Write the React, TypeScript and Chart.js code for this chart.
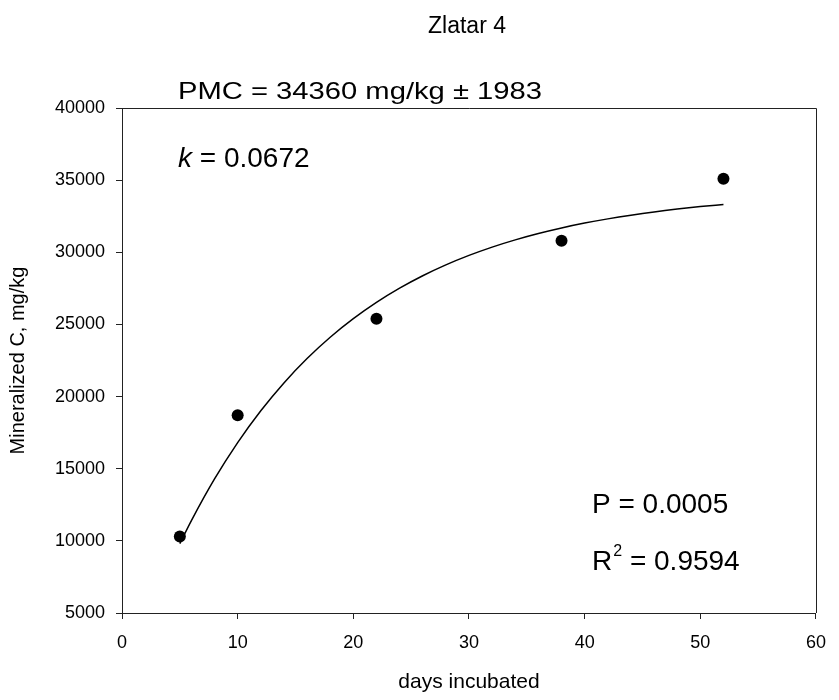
import { useEffect, useRef } from "react";
import { Chart, registerables } from "chart.js";

Chart.register(...registerables);

const chartTitle = "Zlatar 4";
const xAxisTitle = "days incubated";
const yAxisTitle = "Mineralized C, mg/kg";

const observedDays = [5, 10, 22, 38, 52];
const observedC = [10300, 18700, 25400, 30800, 35100];

const fitDays = [5, 6, 8, 10, 12, 14, 16, 18, 20, 22, 24, 26, 28, 30, 32, 34, 36, 38, 40, 42, 44, 46, 48, 50, 52];
const fitC = [9806, 11401, 14290, 16812, 19018, 20949, 22636, 24111, 25399, 26526, 27512, 28374, 29127, 29784, 30360, 30862, 31302, 31687, 32024, 32316, 32573, 32800, 32996, 33168, 33316];

const xTicks = [0, 10, 20, 30, 40, 50, 60];
const yTicks = [5000, 10000, 15000, 20000, 25000, 30000, 35000, 40000];

const pmcLabel = "PMC = 34360 mg/kg ± 1983";
const kSymbol = "k";
const kValueText = " = 0.0672";
const pLabel = "P = 0.0005";
const r2Base = "R";
const r2Sup = "2";
const r2ValueText = " = 0.9594";

const FONT = "'Liberation Sans', Arial, Helvetica, sans-serif";

function drawText(
  ctx: CanvasRenderingContext2D,
  s: string,
  x: number,
  y: number,
  size: number,
  opts: { italic?: boolean; width?: number; align?: "left" | "center" } = {}
) {
  ctx.save();
  ctx.font = `${opts.italic ? "italic " : ""}${size}px ${FONT}`;
  ctx.fillStyle = "#000";
  ctx.textBaseline = "alphabetic";
  const w = ctx.measureText(s).width;
  const sx = opts.width ? opts.width / w : 1;
  const drawnW = w * sx;
  const startX = opts.align === "center" ? x - drawnW / 2 : x;
  ctx.translate(startX, y);
  ctx.scale(sx, 1);
  ctx.textAlign = "left";
  ctx.fillText(s, 0, 0);
  ctx.restore();
  return drawnW;
}

const annotationPlugin = {
  id: "annotations",
  afterDraw(chart: any) {
    const { ctx, chartArea } = chart;
    const { left, right, top, bottom } = chartArea;
    ctx.save();
    ctx.strokeStyle = "#222";
    ctx.lineWidth = 1;
    ctx.beginPath();
    ctx.moveTo(left, Math.round(top) + 0.5);
    ctx.lineTo(Math.round(right) + 0.5, Math.round(top) + 0.5);
    ctx.lineTo(Math.round(right) + 0.5, bottom);
    ctx.stroke();
    ctx.restore();

    const cx = (left + right) / 2;
    drawText(ctx, chartTitle, cx - 2, 33, 23, { align: "center" });
    drawText(ctx, pmcLabel, 178, 99, 24, { width: 364 });
    const kw = drawText(ctx, kSymbol, 178, 167, 28, { italic: true });
    drawText(ctx, kValueText, 178 + kw, 167, 28);
    drawText(ctx, pLabel, 592, 513, 28);
    const rw = drawText(ctx, r2Base, 592, 570, 28);
    const sw = drawText(ctx, r2Sup, 592 + rw + 1, 556, 16);
    drawText(ctx, r2ValueText, 592 + rw + 1 + sw, 570, 28);
  },
};

export default function App() {
  const ref = useRef<HTMLCanvasElement | null>(null);

  useEffect(() => {
    if (!ref.current) return;
    const chart = new Chart(ref.current, {
      type: "scatter",
      data: {
        datasets: [
          {
            type: "scatter",
            label: "Observed",
            data: observedDays.map((d, i) => ({ x: d, y: observedC[i] })),
            backgroundColor: "#000",
            borderColor: "#000",
            borderWidth: 0,
            pointRadius: 6,
            pointHoverRadius: 6,
          },
          {
            type: "line",
            label: "Fit",
            data: fitDays.map((d, i) => ({ x: d, y: fitC[i] })),
            borderColor: "#000",
            borderWidth: 1.5,
            pointRadius: 0,
            fill: false,
            cubicInterpolationMode: "monotone",
            showLine: true,
          } as any,
        ],
      },
      options: {
        responsive: false,
        animation: false,
        events: [],
        layout: { padding: { left: 0, right: 17, top: 108, bottom: 0 } },
        font: { family: FONT },
        plugins: {
          legend: { display: false },
          tooltip: { enabled: false },
          title: { display: false },
        },
        scales: {
          x: {
            type: "linear",
            min: xTicks[0],
            max: xTicks[xTicks.length - 1],
            afterBuildTicks: (s: any) => {
              s.ticks = xTicks.map((v) => ({ value: v }));
            },
            afterFit: (s: any) => {
              s.height = 87;
            },
            grid: {
              drawOnChartArea: false,
              drawTicks: true,
              tickLength: 6,
              tickColor: "#222",
              tickWidth: 1,
            },
            border: { display: true, color: "#222", width: 1 },
            ticks: {
              color: "#000",
              padding: 13,
              font: { family: FONT, size: 18 },
              callback: (v: any) => String(v),
              maxRotation: 0,
            },
            title: {
              display: true,
              text: xAxisTitle,
              color: "#000",
              font: { family: FONT, size: 21 },
              padding: { top: 0, bottom: 5 },
            },
          },
          y: {
            type: "linear",
            min: yTicks[0],
            max: yTicks[yTicks.length - 1],
            afterBuildTicks: (s: any) => {
              s.ticks = yTicks.map((v) => ({ value: v }));
            },
            afterFit: (s: any) => {
              s.width = 122;
            },
            grid: {
              drawOnChartArea: false,
              drawTicks: true,
              tickLength: 6,
              tickColor: "#222",
              tickWidth: 1,
            },
            border: { display: true, color: "#222", width: 1 },
            ticks: {
              color: "#000",
              padding: 11,
              font: { family: FONT, size: 18 },
              callback: (v: any) => String(v),
            },
            title: {
              display: true,
              text: yAxisTitle,
              color: "#000",
              font: { family: FONT, size: 20 },
              padding: { top: 6, bottom: 0 },
            },
          },
        },
      },
      plugins: [annotationPlugin],
    });
    return () => chart.destroy();
  }, []);

  return (
    <div style={{ position: "fixed", left: 0, top: 0, width: 839, height: 700, background: "#fff" }}>
      <canvas ref={ref} width={839} height={700} style={{ display: "block", width: 839, height: 700 }} />
    </div>
  );
}
